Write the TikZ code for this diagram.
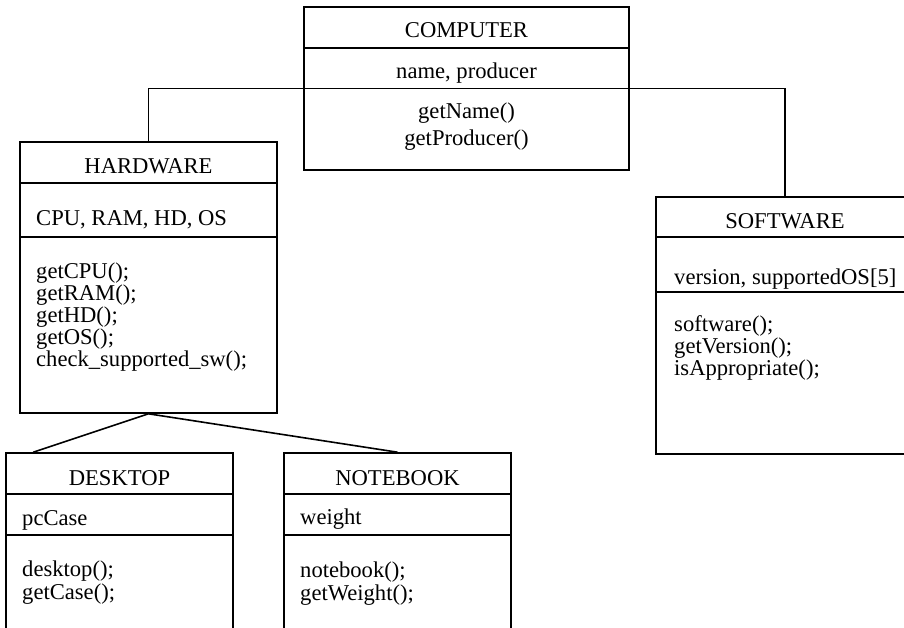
\documentclass[tikz,border=0pt]{standalone}
\usepackage{fontspec}
\setmainfont{Liberation Serif}
\usepackage{tikz}
\tikzstyle{classbox}=[draw,line width=1.6pt,rectangle,inner sep=0pt]
\tikzstyle{sepline}=[draw,line width=1.6pt]
\tikzstyle{link}=[draw,line width=1.6pt]
\tikzstyle{member}=[font=\fontsize{22.6}{26}\selectfont,inner sep=0pt]

\begin{document}
\begin{tikzpicture}[x=1pt,y=-1pt]
    \useasboundingbox (0,0) rectangle (904,627);
    \clip (0,0) rectangle (904,627);
    % class boxes: name / centre x / centre y / width / height
    \foreach \name/\x/\y/\w/\h in {computer/466.5/88.5/325/163, hardware/148.5/277.5/257/271,
        software/785/325.5/258/257, desktop/119.5/551.5/227/197, notebook/397.5/551.5/227/197}
        \node[classbox,minimum width=\w,minimum height=\h] (\name) at (\x,\y) {};
    % compartments
    \foreach \name/\y in {computer/48, computer/88.5, hardware/183, hardware/237,
        software/237, software/292, desktop/494, desktop/535, notebook/494, notebook/535}
        \path[sepline] (\name.west |- 0,\y) -- (\name.east |- 0,\y);
    % class names
    \foreach \name/\y/\txt in {computer/37.5/COMPUTER, hardware/173/HARDWARE,
        software/228/SOFTWARE, desktop/485/DESKTOP, notebook/485/NOTEBOOK}
        \node[member,anchor=base] (\name-title) at (\name.center |- 0,\y) {\txt};
    % centred members of the top class
    \foreach \y/\txt [count=\i] in {78/{name, producer}, 118/getName(), 145/getProducer()}
        \node[member,anchor=base] (c\i) at (computer.center |- 0,\y) {\txt};
    % left aligned members
    \foreach \x/\y/\txt [count=\i] in {36/225/{CPU, RAM, HD, OS}, 36/278/getCPU();,
        36/300/getRAM();, 36/322/getHD();, 36/344/getOS();, 36/366/check\_supported\_sw();,
        674/284/{version, supportedOS[5]}, 674/331/software();, 674/353/getVersion();,
        674/375/isAppropriate();, 22/525/pcCase, 22/576/desktop();, 22/599/getCase();,
        300/524/weight, 300/577/notebook();, 300/600/getWeight();}
        \node[member,anchor=base west] (m\i) at (\x,\y) {\txt};
    % links
    \path[link] (hardware.north) |- (computer.center) -| (software.north);
    \path[link] ([xshift=28pt]desktop.north west) -- (hardware.south) -- (notebook.north);
\end{tikzpicture}
\end{document}
